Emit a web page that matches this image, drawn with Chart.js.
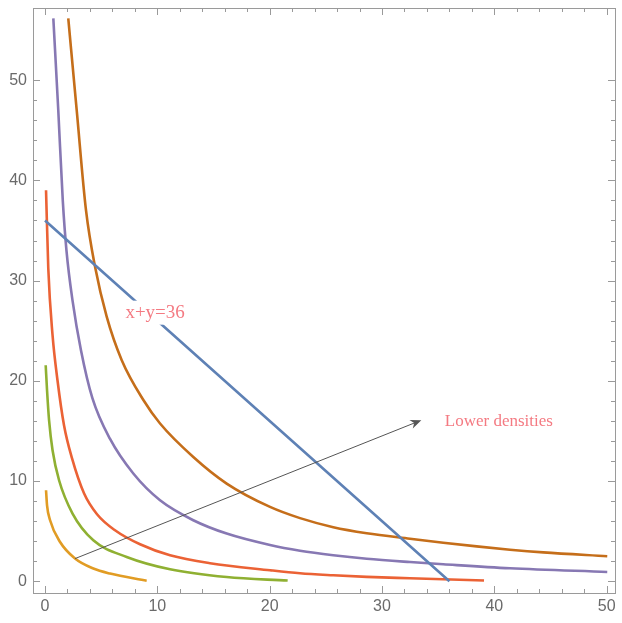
<!DOCTYPE html>
<html>
<head>
<meta charset="utf-8">
<script src="https://cdn.jsdelivr.net/npm/chart.js@4"></script>
<style>
html,body{margin:0;padding:0;background:#fff;}
#wrap{width:622px;height:623px;}
</style>
</head>
<body>
<div id="wrap"><canvas id="c" width="622" height="623"></canvas></div>
<script>
// ---- data ----
const xTicks = [0, 10, 20, 30, 40, 50];
const yTicks = [0, 10, 20, 30, 40, 50];

const lineX = [0, 36];
const lineY = [36, 0];

const orangeX = [0.09, 0.18, 0.45, 1.34, 2.67, 4.30, 5.79, 9.05];
const orangeY = [9.08, 7.58, 6.09, 3.92, 2.27, 1.27, 0.77, 0.05];

const greenX = [0.06, 0.18, 0.36, 0.67, 1.25, 2.45, 4.30, 7.27, 11.13, 16.17, 21.6];
const greenY = [21.56, 19.06, 16.07, 13.07, 10.08, 6.76, 4.09, 2.43, 1.20, 0.42, 0.07];

const redX = [0.09, 0.29, 0.67, 1.11, 1.69, 2.40, 3.47, 4.63, 6.23, 8.46, 11.13, 14.69, 20.03, 22.7, 25.66, 28.64, 32.49, 39.08];
const redY = [39.02, 31.24, 24.55, 20.06, 15.57, 12.28, 8.78, 6.69, 5.09, 3.69, 2.59, 1.80, 1.10, 0.80, 0.60, 0.44, 0.30, 0.07];

const purpleX = [0.74, 1.18, 1.58, 1.91, 2.45, 3.20, 4.21, 5.79, 7.86, 10.24, 13.2, 16.17, 20.03, 22.7, 25.66, 28.64, 32.49, 35.45, 41.39, 50.05];
const purpleY = [56.16, 47.0, 38.0, 33.0, 28.0, 23.05, 18.3, 14.2, 10.75, 8.08, 6.09, 4.76, 3.62, 3.05, 2.6, 2.25, 1.92, 1.7, 1.3, 0.93];

const brownX = [2.07, 2.82, 3.65, 4.45, 5.49, 6.83, 8.77, 10.24, 13.2, 16.17, 20.03, 22.7, 25.66, 28.64, 32.49, 35.45, 38.43, 41.39, 44.36, 50.05];
const brownY = [56.16, 47.0, 37.0, 31.4, 26.4, 22.06, 18.06, 15.74, 12.4, 9.75, 7.42, 6.3, 5.4, 4.8, 4.25, 3.85, 3.48, 3.15, 2.88, 2.5];

const lineLabel = 'x+y=36';
const arrowLabel = 'Lower densities';
const arrowFrom = [2.67, 2.26];
const arrowTo = [33.5, 16.07];
const lineLabelAt = [9.8, 26.8];
const arrowLabelAt = [40.4, 15.9];

// ---- chart ----
function pts(xs, ys) { return xs.map((x, i) => ({x: x, y: ys[i]})); }
function ds(xs, ys, color) {
  return {
    data: pts(xs, ys), showLine: true, borderColor: color, backgroundColor: color,
    borderWidth: 2.6, pointRadius: 0, fill: false, cubicInterpolationMode: 'monotone'
  };
}

const frameColor = '#9a9a9a';

const decor = {
  id: 'decor',
  afterDatasetsDraw(chart) {
    const ctx = chart.ctx, xs = chart.scales.x, ys = chart.scales.y;
    const px = v => xs.getPixelForValue(v), py = v => ys.getPixelForValue(v);
    ctx.save();
    // arrow
    const x0 = px(arrowFrom[0]), y0 = py(arrowFrom[1]);
    const x1 = px(arrowTo[0]), y1 = py(arrowTo[1]);
    const ang = Math.atan2(y1 - y0, x1 - x0);
    const hl = 11, hw = 4.5;
    ctx.strokeStyle = '#555'; ctx.fillStyle = '#555'; ctx.lineWidth = 1;
    ctx.beginPath(); ctx.moveTo(x0, y0);
    ctx.lineTo(x1 - Math.cos(ang) * hl * 0.7, y1 - Math.sin(ang) * hl * 0.7); ctx.stroke();
    ctx.beginPath();
    ctx.moveTo(x1, y1);
    ctx.lineTo(x1 - Math.cos(ang) * hl - Math.sin(ang) * hw, y1 - Math.sin(ang) * hl + Math.cos(ang) * hw);
    ctx.lineTo(x1 - Math.cos(ang) * hl * 0.7, y1 - Math.sin(ang) * hl * 0.7);
    ctx.lineTo(x1 - Math.cos(ang) * hl + Math.sin(ang) * hw, y1 - Math.sin(ang) * hl - Math.cos(ang) * hw);
    ctx.closePath(); ctx.fill();
    // labels
    ctx.textAlign = 'center'; ctx.textBaseline = 'middle';
    ctx.font = '19px "Liberation Serif", "Times New Roman", serif';
    const lx = px(lineLabelAt[0]), ly = py(lineLabelAt[1]);
    const w = ctx.measureText(lineLabel).width;
    ctx.fillStyle = '#fff';
    ctx.fillRect(lx - w / 2 - 4, ly - 12, w + 8, 24);
    ctx.fillStyle = '#f47a82';
    ctx.fillText(lineLabel, lx, ly);
    ctx.font = '17px "Liberation Serif", "Times New Roman", serif';
    ctx.fillText(arrowLabel, px(arrowLabelAt[0]), py(arrowLabelAt[1]));
    // frame
    const a = chart.chartArea;
    ctx.strokeStyle = frameColor; ctx.lineWidth = 1;
    ctx.strokeRect(Math.round(a.left) + 0.5, Math.round(a.top) + 0.5, Math.round(a.right - a.left), Math.round(a.bottom - a.top));
    // ticks
    ctx.beginPath();
    for (let v = 0; v <= 50; v += 2) {
      const len = (v % 10 === 0) ? 7 : 4;
      const X = Math.round(px(v)) + 0.5;
      ctx.moveTo(X, a.bottom); ctx.lineTo(X, a.bottom - len);
      ctx.moveTo(X, a.top); ctx.lineTo(X, a.top + len);
      const Y = Math.round(py(v)) + 0.5;
      ctx.moveTo(a.left, Y); ctx.lineTo(a.left + len, Y);
      ctx.moveTo(a.right, Y); ctx.lineTo(a.right - len, Y);
    }
    ctx.stroke();
    ctx.restore();
  }
};

const tickFont = {family: '"Liberation Sans", Arial, sans-serif', size: 16};

new Chart(document.getElementById('c'), {
  type: 'scatter',
  data: {
    datasets: [
      ds(lineX, lineY, '#5e81b5'),
      ds(orangeX, orangeY, '#e19c24'),
      ds(greenX, greenY, '#8fb032'),
      ds(redX, redY, '#eb6235'),
      ds(purpleX, purpleY, '#8778b3'),
      ds(brownX, brownY, '#c56e1a')
    ]
  },
  options: {
    responsive: false, animation: false, devicePixelRatio: 1,
    layout: {padding: {top: 8, right: 7, left: 0, bottom: 0}},
    plugins: {legend: {display: false}, tooltip: {enabled: false}},
    scales: {
      x: {
        type: 'linear', min: -1.07, max: 50.74,
        grid: {display: false, drawTicks: false}, border: {display: false},
        afterBuildTicks: s => { s.ticks = xTicks.map(v => ({value: v})); },
        afterFit: s => { s.height = 30; s.paddingLeft = 0; s.paddingRight = 0; },
        ticks: {color: '#6a6a6a', font: tickFont, padding: 4, maxRotation: 0, autoSkip: false}
      },
      y: {
        type: 'linear', min: -1.17, max: 57.2,
        grid: {display: false, drawTicks: false}, border: {display: false},
        afterBuildTicks: s => { s.ticks = yTicks.map(v => ({value: v})); },
        afterFit: s => { s.width = 33; s.paddingTop = 0; s.paddingBottom = 0; },
        ticks: {color: '#6a6a6a', font: tickFont, padding: 6, autoSkip: false}
      }
    }
  },
  plugins: [decor]
});
</script>
</body>
</html>
